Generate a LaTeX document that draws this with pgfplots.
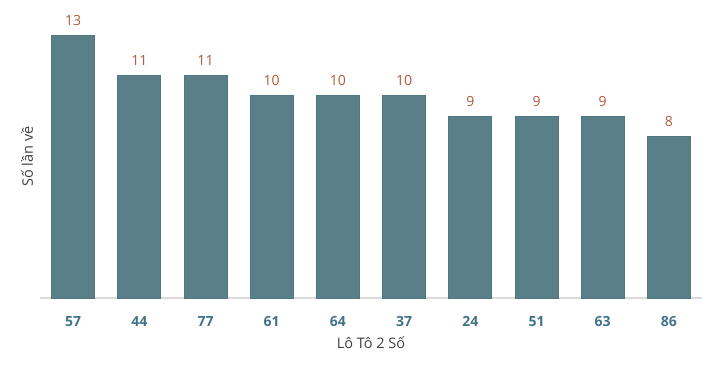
\documentclass[border=0pt]{standalone}
\usepackage{pgfplots}
\pgfplotsset{compat=1.18}
\usepackage{fontspec}
\setmainfont{Open Sans}
\definecolor{barc}{RGB}{89,127,137}
\definecolor{baredge}{RGB}{80,118,128}
\definecolor{valc}{RGB}{178,88,60}
\definecolor{tickc}{RGB}{66,114,138}
\definecolor{labc}{RGB}{64,64,64}
\definecolor{axc}{RGB}{217,217,217}
\begin{document}
\begin{tikzpicture}
\path[use as bounding box] (-40pt,-72pt) rectangle (677pt,298pt);
\begin{axis}[
  at={(0pt,0pt)}, anchor=south west,
  scale only axis, width=662pt, height=283pt,
  xmin=-0.5, xmax=9.5, ymin=0, ymax=14,
  axis x line=bottom, axis y line=left,
  x axis line style={-, draw=axc, line width=1.5pt},
  y axis line style={draw=none},
  /pgf/number format/assume math mode=true,
  clip=false,
  ybar, bar width=43pt,
  xtick=data,
  xtick style={draw=none},
  xticklabels={57,44,77,61,64,37,24,51,63,86},
  xticklabel style={anchor=center, yshift=-19pt, font=\fontsize{14}{16}\selectfont\bfseries, text=tickc},
  ytick=\empty,
  nodes near coords,
  every node near coord/.append style={font=\fontsize{14}{16}\selectfont, text=valc, anchor=center, yshift=15pt},
  xlabel={Lô Tô 2 Số},
  ylabel={Số lần về},
  xlabel style={at={(axis description cs:0.5,0)}, anchor=center, yshift=-45pt, font=\fontsize{14.5}{16}\selectfont, text=labc},
  ylabel style={at={(axis description cs:0,0.5)}, anchor=center, yshift=13pt, font=\fontsize{14.5}{16}\selectfont, text=labc},
]
\addplot[fill=barc, draw=baredge, line width=0.8pt] coordinates {(0,13) (1,11) (2,11) (3,10) (4,10) (5,10) (6,9) (7,9) (8,9) (9,8)};
\end{axis}
\end{tikzpicture}
\end{document}
